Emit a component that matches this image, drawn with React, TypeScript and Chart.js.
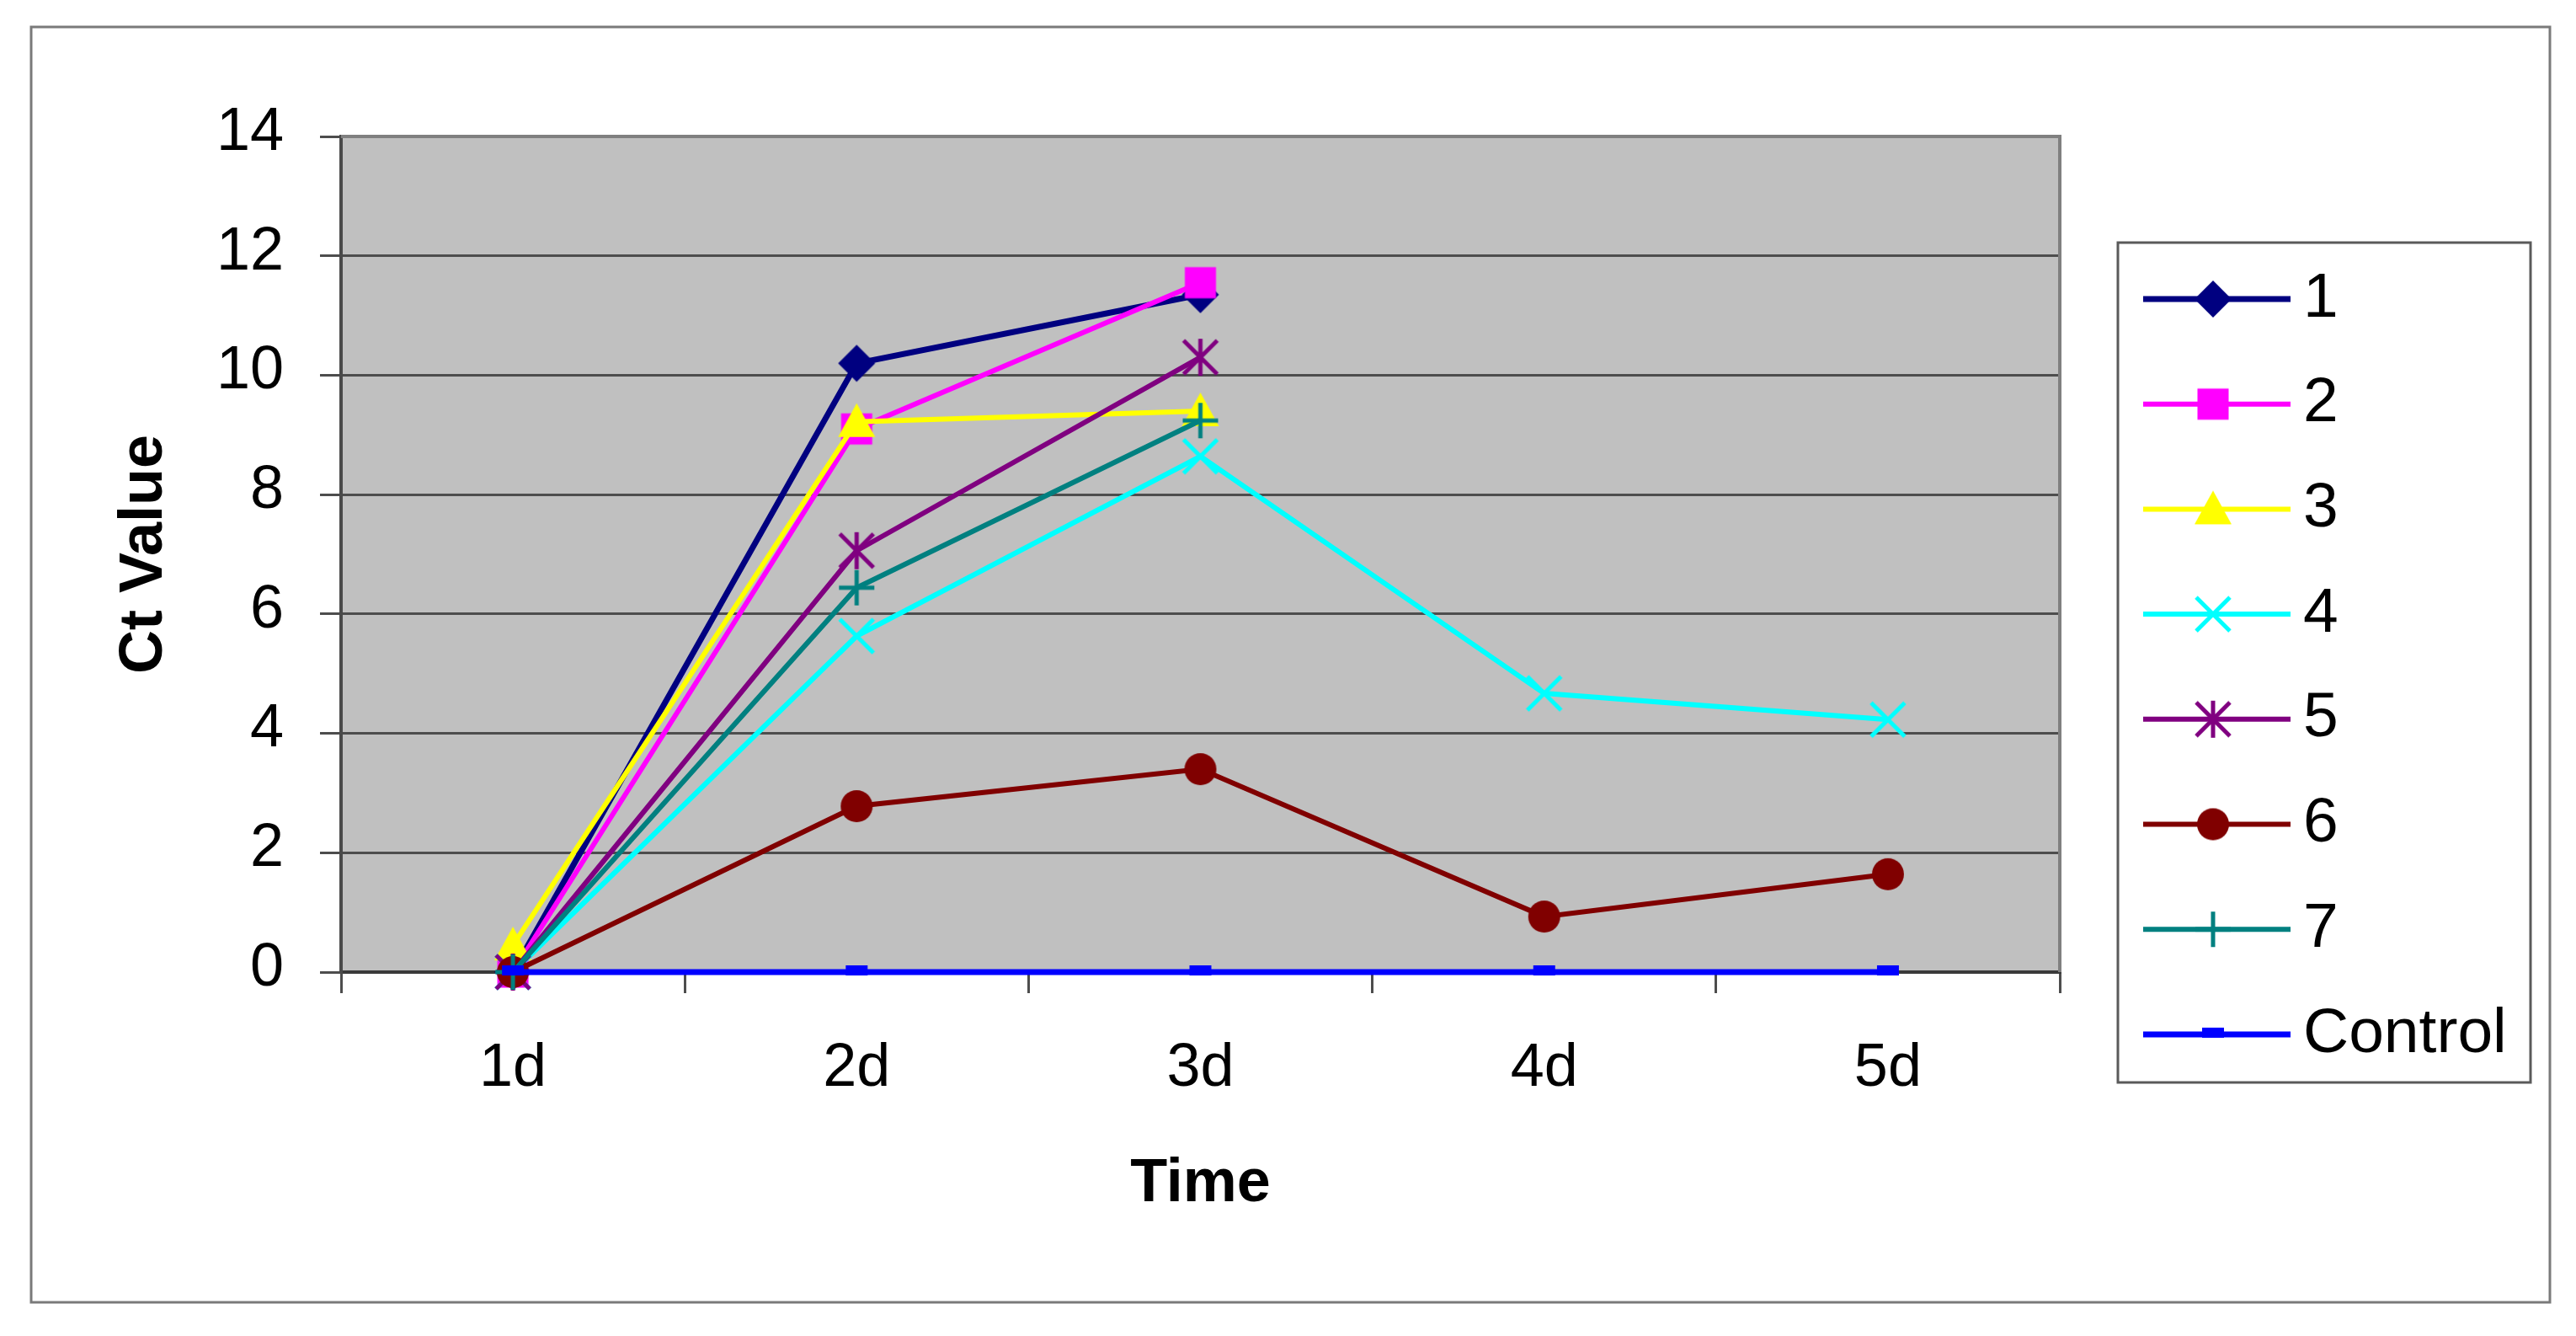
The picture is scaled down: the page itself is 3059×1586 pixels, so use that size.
import React, { useEffect, useRef } from 'react';
import { Chart, registerables, Plugin } from 'chart.js';

Chart.register(...registerables);

// Data
const timeLabels = ['1d', '2d', '3d', '4d', '5d'];
const seriesNames = ['1', '2', '3', '4', '5', '6', '7', 'Control'];
const series1 = [0, 10.2, 11.35, null, null];
const series2 = [0, 9.1, 11.55, null, null];
const series3 = [0.45, 9.22, 9.4, null, null];
const series4 = [0, 5.63, 8.64, 4.67, 4.23];
const series5 = [0, 7.06, 10.3, null, null];
const series6 = [0, 2.78, 3.4, 0.93, 1.64];
const series7 = [0, 6.44, 9.24, null, null];
const controlSeries = [0, 0, 0, 0, 0];
const yMin = 0;
const yMax = 14;
const yStep = 2;

const FONT = '"Liberation Sans", Arial, sans-serif';

type MarkerKind = 'diamond' | 'square' | 'triangle' | 'x' | 'star' | 'circle' | 'plus' | 'dash';

// Excel-like marker drawn into a small canvas, used as pointStyle
function makeMarker(kind: MarkerKind, color: string): HTMLCanvasElement {
    const c = document.createElement('canvas');
    c.width = 50;
    c.height = 50;
    const g = c.getContext('2d')!;
    g.translate(25, 25);
    g.fillStyle = color;
    g.strokeStyle = color;
    g.lineWidth = 5;
    g.beginPath();
    switch (kind) {
        case 'diamond':
            g.moveTo(0, -22); g.lineTo(22, 0); g.lineTo(0, 22); g.lineTo(-22, 0);
            g.closePath(); g.fill();
            break;
        case 'square':
            g.fillRect(-18.5, -18.5, 37, 37);
            break;
        case 'triangle':
            g.moveTo(0, -22); g.lineTo(22, 18); g.lineTo(-22, 18);
            g.closePath(); g.fill();
            break;
        case 'circle':
            g.arc(0, 0, 19, 0, Math.PI * 2); g.fill();
            break;
        case 'x':
            g.moveTo(-20, -20); g.lineTo(20, 20); g.moveTo(20, -20); g.lineTo(-20, 20);
            g.stroke();
            break;
        case 'star':
            g.moveTo(-20, -20); g.lineTo(20, 20); g.moveTo(20, -20); g.lineTo(-20, 20);
            g.moveTo(0, -22); g.lineTo(0, 22);
            g.stroke();
            break;
        case 'plus':
            g.moveTo(-21, 0); g.lineTo(21, 0); g.moveTo(0, -21); g.lineTo(0, 21);
            g.stroke();
            break;
        case 'dash':
            g.fillRect(-13, -8, 26, 12);
            break;
    }
    return c;
}

// grey plot area + outer frame
const backgroundPlugin: Plugin<'line'> = {
    id: 'excelBackground',
    beforeDraw(chart) {
        const { ctx, chartArea } = chart;
        ctx.save();
        ctx.fillStyle = '#ffffff';
        ctx.fillRect(0, 0, chart.width, chart.height);
        ctx.strokeStyle = '#7a7a7a';
        ctx.lineWidth = 3;
        ctx.strokeRect(37, 32, 2991, 1514);
        ctx.fillStyle = '#c0c0c0';
        ctx.fillRect(chartArea.left, chartArea.top, chartArea.right - chartArea.left, chartArea.bottom - chartArea.top);
        ctx.restore();
    },
    beforeDatasetsDraw(chart) {
        const { ctx, chartArea } = chart;
        ctx.save();
        ctx.strokeStyle = '#808080';
        ctx.lineWidth = 4;
        ctx.beginPath();
        ctx.moveTo(chartArea.left, chartArea.top);
        ctx.lineTo(chartArea.right, chartArea.top);
        ctx.lineTo(chartArea.right, chartArea.bottom);
        ctx.stroke();
        ctx.restore();
    }
};

// boxed legend on the right, line + marker + label
const legendPlugin: Plugin<'line'> = {
    id: 'excelLegend',
    afterDraw(chart) {
        const { ctx, chartArea } = chart;
        const left = chartArea.right + 69;
        const top = 288;
        const width = 490;
        const height = 997;
        ctx.save();
        ctx.fillStyle = '#ffffff';
        ctx.fillRect(left, top, width, height);
        ctx.strokeStyle = '#5a5a5a';
        ctx.lineWidth = 3;
        ctx.strokeRect(left, top, width, height);
        chart.data.datasets.forEach((ds: any, i: number) => {
            const y = top + 67 + i * 124.7;
            ctx.strokeStyle = ds.borderColor;
            ctx.lineWidth = ds.borderWidth;
            ctx.beginPath();
            ctx.moveTo(left + 30, y);
            ctx.lineTo(left + 205, y);
            ctx.stroke();
            ctx.drawImage(ds.pointStyle, left + 113 - 25, y - 25);
            ctx.fillStyle = '#000000';
            ctx.font = `75px ${FONT}`;
            ctx.textBaseline = 'middle';
            ctx.textAlign = 'left';
            ctx.fillText(ds.label, left + 220, y);
        });
        ctx.restore();
    }
};

const styles: { color: string; marker: MarkerKind; width: number }[] = [
    { color: '#000080', marker: 'diamond', width: 7 },
    { color: '#ff00ff', marker: 'square', width: 6 },
    { color: '#ffff00', marker: 'triangle', width: 6 },
    { color: '#00ffff', marker: 'x', width: 6 },
    { color: '#800080', marker: 'star', width: 6 },
    { color: '#800000', marker: 'circle', width: 6 },
    { color: '#008080', marker: 'plus', width: 6 },
    { color: '#0000ff', marker: 'dash', width: 7 },
];

export default function App() {
    const canvasRef = useRef<HTMLCanvasElement>(null);

    useEffect(() => {
        const ctx = canvasRef.current?.getContext('2d');
        if (!ctx) return;

        const values = [series1, series2, series3, series4, series5, series6, series7, controlSeries];

        const chart = new Chart(ctx, {
            type: 'line',
            data: {
                labels: timeLabels,
                datasets: values.map((data, i) => ({
                    label: seriesNames[i],
                    data,
                    borderColor: styles[i].color,
                    backgroundColor: styles[i].color,
                    borderWidth: styles[i].width,
                    pointStyle: makeMarker(styles[i].marker, styles[i].color),
                    pointRadius: 20,
                    tension: 0,
                    clip: false,
                    order: values.length - i,
                })),
            },
            options: {
                responsive: false,
                devicePixelRatio: 1,
                animation: false,
                layout: { padding: { top: 162, right: 613, bottom: 132, left: 60 } },
                plugins: {
                    legend: { display: false },
                    tooltip: { enabled: false },
                },
                scales: {
                    x: {
                        type: 'category',
                        offset: true,
                        afterFit: (scale: any) => { scale.height = 300; },
                        grid: {
                            offset: true,
                            drawOnChartArea: false,
                            drawTicks: true,
                            tickLength: 25,
                            color: '#4d4d4d',
                            lineWidth: 3,
                        },
                        border: { display: true, color: '#3a3a3a', width: 4 },
                        ticks: {
                            color: '#000000',
                            font: { family: FONT, size: 72 },
                            padding: 47,
                            maxRotation: 0,
                        },
                        title: {
                            display: true,
                            text: 'Time',
                            color: '#000000',
                            font: { family: FONT, size: 72, weight: 'bold' },
                            padding: { top: 0, bottom: 5 },
                        },
                    },
                    y: {
                        min: yMin,
                        max: yMax,
                        afterFit: (scale: any) => { scale.width = 345; },
                        grid: {
                            drawTicks: true,
                            tickLength: 25,
                            color: '#4d4d4d',
                            lineWidth: 3,
                        },
                        border: { display: true, color: '#4a4a4a', width: 4 },
                        ticks: {
                            stepSize: yStep,
                            color: '#000000',
                            font: { family: FONT, size: 72 },
                            padding: 43,
                            labelOffset: -4,
                        },
                        title: {
                            display: true,
                            text: 'Ct Value',
                            color: '#000000',
                            font: { family: FONT, size: 72, weight: 'bold' },
                            padding: { top: 69, bottom: 0 },
                        },
                    },
                },
            },
            plugins: [backgroundPlugin, legendPlugin],
        });

        return () => {
            chart.destroy();
        };
    }, []);

    return (
        <div style={{ position: 'absolute', left: 0, top: 0, width: 3059, height: 1586, background: '#ffffff' }}>
            <canvas ref={canvasRef} width={3059} height={1586} style={{ width: 3059, height: 1586, display: 'block' }} />
        </div>
    );
}
